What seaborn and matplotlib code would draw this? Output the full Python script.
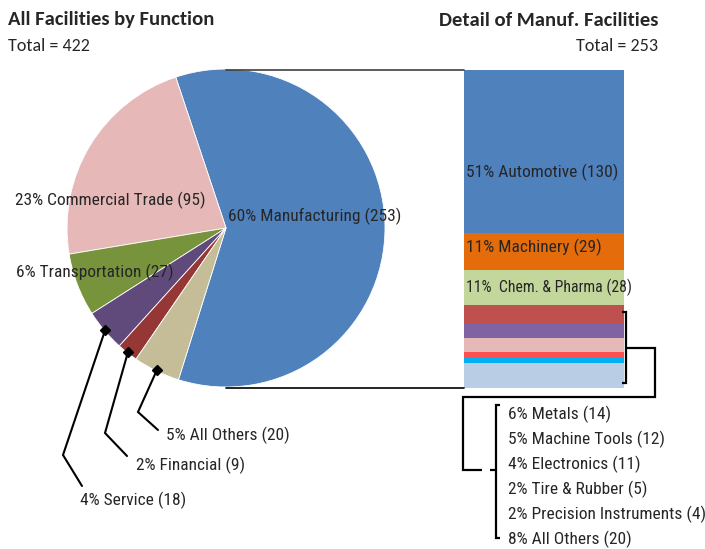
import numpy as np
import pandas as pd
import matplotlib
matplotlib.use("Agg")
import matplotlib.pyplot as plt
import seaborn as sns

# ---------------- data ----------------
func_labels = ["Manufacturing", "Commercial Trade", "Transportation", "Service", "Financial", "All Others"]
func_counts = [253, 95, 27, 18, 9, 20]
func_pcts = [60, 23, 6, 4, 2, 5]
func_colors = ["#4F81BD", "#E6B9B8", "#77933C", "#604A7B", "#953735", "#C4BD97"]

manuf_labels = ["Automotive", "Machinery", "Chem. & Pharma", "Metals", "Machine Tools",
                "Electronics", "Tire & Rubber", "Precision Instruments", "All Others"]
manuf_counts = [130, 29, 28, 14, 12, 11, 5, 4, 20]
manuf_pcts = [51, 11, 11, 6, 5, 4, 2, 2, 8]
manuf_colors = ["#4F81BD", "#E46C0A", "#C3D69B", "#C0504D", "#8064A2",
                "#E6B9B8", "#FF5050", "#00B0F0", "#B9CDE5"]

title_left = "All Facilities by Function"
title_right = "Detail of Manuf. Facilities"
total_left = "Total = 422"
total_right = "Total = 253"

# ---------------- style ----------------
sns.set_theme(style="white")
LBL = ["Roboto Condensed", "Archivo Narrow", "Liberation Sans", "DejaVu Sans"]
TTL = ["Carlito", "Lato", "DejaVu Sans"]
plt.rcParams["font.family"] = LBL

W, H = 705, 549
fig = plt.figure(figsize=(W / 100, H / 100), dpi=100)

def fbox(x0, y0, x1, y1):
    return [x0 / W, 1 - y1 / H, (x1 - x0) / W, (y1 - y0) / H]

# pie axes (center 226,228 ; radius 159)
cx, cy, R = 226, 228, 159
axp = fig.add_axes(fbox(cx - R, cy - R, cx + R, cy + R))
wedges, _ = axp.pie(func_counts, colors=func_colors, startangle=-107.4,
                    counterclock=True, radius=1,
                    wedgeprops=dict(linewidth=0.6, edgecolor="white"))
axp.set_xlim(-1, 1)
axp.set_ylim(-1, 1)
axp.set_aspect("equal")
axp.axis("off")

# stacked bar axes
axb = fig.add_axes(fbox(464, 70, 624, 388))
cum = 0
for lab, val, col in zip(manuf_labels, manuf_counts, manuf_colors):
    sns.barplot(x=[0], y=[val], bottom=cum, color=col, width=1, errorbar=None,
                saturation=1, ax=axb, linewidth=0)
    cum += val
axb.set_xlim(-0.5, 0.5)
axb.set_ylim(sum(manuf_counts), 0)
axb.axis("off")

# overlay in pixel coordinates
ov = fig.add_axes([0, 0, 1, 1], zorder=5)
ov.set_xlim(0, W)
ov.set_ylim(H, 0)
ov.axis("off")
ov.patch.set_alpha(0)

# titles
ov.text(8, 20, title_left, fontsize=14.9, fontweight="bold", family=TTL, va="center", ha="left")
ov.text(8, 46, total_left, fontsize=13, family=TTL, va="center", ha="left")
ov.text(658, 20, title_right, fontsize=14.9, fontweight="bold", family=TTL, va="center", ha="right")
ov.text(658, 46, total_right, fontsize=13, family=TTL, va="center", ha="right")

FS = 12.5
# inner pie labels
def flabel(i):
    return f"{func_pcts[i]}% {func_labels[i]} ({func_counts[i]})"

ov.text(315, 216, flabel(0), fontsize=FS, ha="center", va="center")
ov.text(110, 200, flabel(1), fontsize=FS, ha="center", va="center")
ov.text(95, 272, flabel(2), fontsize=FS, ha="center", va="center")

# leader lines for small slices
def px2d(x, y):
    return ((x - cx) / R, (cy - y) / R)

leaders = {3: ((63, 455), (82, 486), (80, 500)),
           4: ((105, 433), (127, 456), (136, 465)),
           5: ((138, 412), (158, 430), (166, 435))}
for i, (elb, end, txt) in leaders.items():
    w = wedges[i]
    mid = np.deg2rad((w.theta1 + w.theta2) / 2)
    r0 = 0.995
    p0 = (r0 * np.cos(mid), r0 * np.sin(mid))
    e1 = px2d(*elb)
    e2 = px2d(*end)
    axp.plot([p0[0], e1[0], e2[0]], [p0[1], e1[1], e2[1]], color="black", lw=1.5,
             clip_on=False, zorder=6, solid_joinstyle="miter")
    axp.plot([p0[0]], [p0[1]], marker="D", ms=5.5, color="black", clip_on=False, zorder=7)
    ov.text(txt[0], txt[1], flabel(i), fontsize=FS, ha="left", va="center")

# connector lines pie -> bar
ov.plot([226, 464], [70, 70], color="#404040", lw=1.2)
ov.plot([226, 464], [388, 388], color="black", lw=1.2)

# bar labels
def mlabel(i, sep=" "):
    return f"{manuf_pcts[i]}%{sep}{manuf_labels[i]} ({manuf_counts[i]})"

ov.text(466, 172, mlabel(0), fontsize=FS, ha="left", va="center")
ov.text(466, 247, mlabel(1), fontsize=FS, ha="left", va="center")
ov.text(466, 287, mlabel(2, "  "), fontsize=11.3, ha="left", va="center")

# brackets
k = dict(color="black", lw=1.6, solid_joinstyle="miter", solid_capstyle="butt")
ov.plot([622, 626, 626, 622], [312, 312, 383, 383], **k)
ov.plot([626, 655, 655, 463, 463, 482], [348, 348, 397, 397, 470, 470], **k)
ov.plot([500, 496, 496, 500], [405, 405, 538, 538], **k)
ov.plot([490, 496], [470, 470], **k)

for j, i in enumerate(range(3, 9)):
    ov.text(508, 414 + 25 * j, mlabel(i), fontsize=FS, ha="left", va="center")

fig.savefig("out.png", dpi=100)
